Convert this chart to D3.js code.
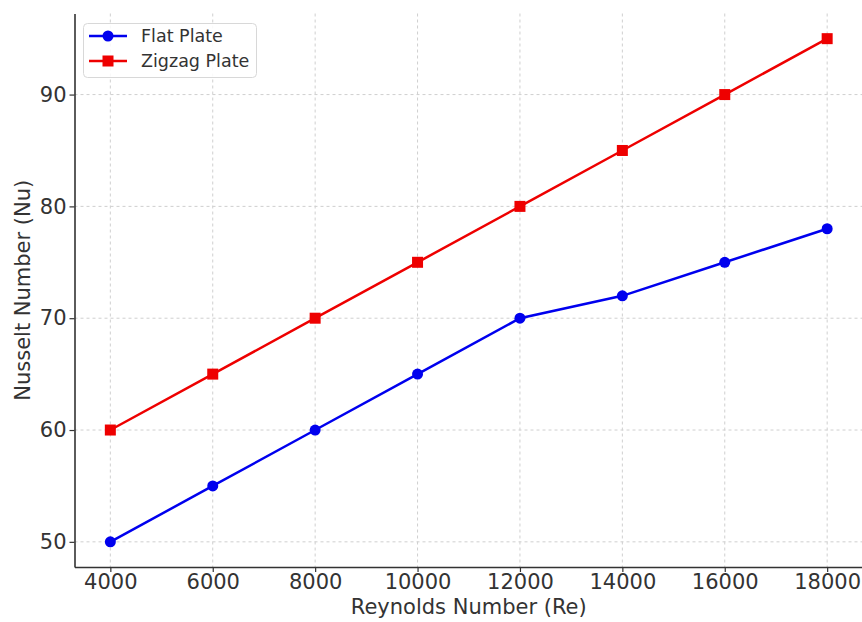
<!DOCTYPE html>
<html><head><meta charset="utf-8">
<script src="https://cdn.jsdelivr.net/npm/d3@7"></script>
<style>body{margin:0;background:#fff}svg{display:block;font-family:"DejaVu Sans",sans-serif}</style>
</head><body><svg id="c" width="862" height="622"></svg>
<script>
const reynolds = [4000, 6000, 8000, 10000, 12000, 14000, 16000, 18000];
const flatPlate = [50, 55, 60, 65, 70, 72, 75, 78];
const zigzagPlate = [60, 65, 70, 75, 80, 85, 90, 95];
const xTicks = [4000, 6000, 8000, 10000, 12000, 14000, 16000, 18000];
const yTicks = [50, 60, 70, 80, 90];
const seriesNames = ["Flat Plate", "Zigzag Plate"];

const svg = d3.select("#c");
const L = 74.5, R = 863, T = 13.5, B = 567;
const x = d3.scaleLinear().domain([3300, 18700]).range([L, R]);
const y = d3.scaleLinear().domain([47.75, 97.25]).range([B, T]);
const txt = "#333";

// grid
const g = svg.append("g");
g.selectAll(".gx").data(xTicks).join("line")
  .attr("x1", d => x(d)).attr("x2", d => x(d)).attr("y1", T).attr("y2", B)
  .attr("stroke", "#cfcfcf").attr("stroke-width", 1).attr("stroke-dasharray", "3,3");
g.selectAll(".gy").data(yTicks).join("line")
  .attr("y1", d => y(d)).attr("y2", d => y(d)).attr("x1", L).attr("x2", R)
  .attr("stroke", "#cfcfcf").attr("stroke-width", 1).attr("stroke-dasharray", "3,3");

// axes
const xa = svg.append("g").attr("transform", `translate(0,${B})`)
  .call(d3.axisBottom(x).tickValues(xTicks).tickFormat(d3.format("d")).tickSize(5).tickPadding(2).tickSizeOuter(0));
const ya = svg.append("g").attr("transform", `translate(${L},0)`)
  .call(d3.axisLeft(y).tickValues(yTicks).tickSize(5).tickPadding(3).tickSizeOuter(0));
[xa, ya].forEach(a => {
  a.select(".domain").attr("stroke", txt).attr("stroke-width", 1.6);
  a.selectAll(".tick line").attr("stroke", txt).attr("stroke-width", 1.2);
  a.selectAll("text").attr("fill", txt).attr("font-size", 21).attr("font-family", "DejaVu Sans");
});

svg.append("text").attr("x", (L + R) / 2).attr("y", 614).attr("text-anchor", "middle")
  .attr("font-size", 21).attr("fill", txt).text("Reynolds Number (Re)");
svg.append("text").attr("transform", `translate(30,${(T + B) / 2}) rotate(-90)`).attr("text-anchor", "middle")
  .attr("font-size", 21).attr("fill", txt).text("Nusselt Number (Nu)");

const line = d3.line().x((d, i) => x(reynolds[i])).y(d => y(d));
const data = [
  {name: seriesNames[0], vals: flatPlate, color: "#0000ee", shape: "circle"},
  {name: seriesNames[1], vals: zigzagPlate, color: "#ee0000", shape: "square"}
];
data.forEach(s => {
  svg.append("path").datum(s.vals).attr("d", line).attr("fill", "none")
    .attr("stroke", s.color).attr("stroke-width", 2.5);
  if (s.shape === "circle") {
    svg.selectAll(null).data(s.vals).join("circle")
      .attr("cx", (d, i) => x(reynolds[i])).attr("cy", d => y(d)).attr("r", 5.5).attr("fill", s.color);
  } else {
    svg.selectAll(null).data(s.vals).join("rect")
      .attr("x", (d, i) => x(reynolds[i]) - 5.5).attr("y", d => y(d) - 5.5)
      .attr("width", 11).attr("height", 11).attr("fill", s.color);
  }
});

// legend
const lg = svg.append("g");
lg.append("rect").attr("x", 83.5).attr("y", 23.5).attr("width", 173).attr("height", 54).attr("rx", 4)
  .attr("fill", "#fff").attr("fill-opacity", 0.85).attr("stroke", "#d8d8d8").attr("stroke-width", 1);
data.forEach((s, i) => {
  const cy = 36 + i * 25;
  lg.append("line").attr("x1", 89).attr("x2", 127).attr("y1", cy).attr("y2", cy)
    .attr("stroke", s.color).attr("stroke-width", 2.5);
  if (s.shape === "circle") lg.append("circle").attr("cx", 108).attr("cy", cy).attr("r", 5.5).attr("fill", s.color);
  else lg.append("rect").attr("x", 102.5).attr("y", cy - 5.5).attr("width", 11).attr("height", 11).attr("fill", s.color);
  lg.append("text").attr("x", 141).attr("y", cy).attr("dy", "0.35em").attr("font-size", 17.5)
    .attr("fill", txt).text(s.name);
});
</script></body></html>
